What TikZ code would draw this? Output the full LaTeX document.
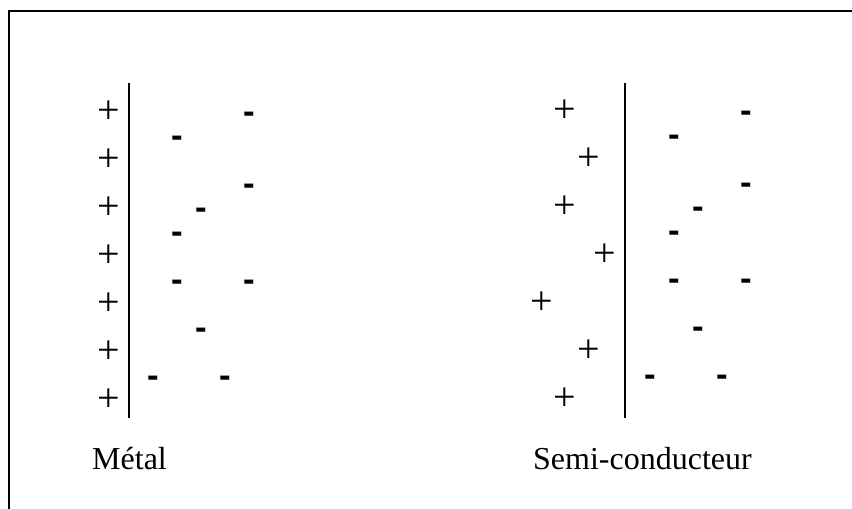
\documentclass[tikz,border=0pt]{standalone}
\usepackage{fontspec}
\setmainfont{Liberation Serif}
\newfontfamily\dashfont{DejaVu Sans}
\usetikzlibrary{positioning}

\begin{document}
\begin{tikzpicture}[
  x=1pt,y=-1pt,
  charge/.style={inner sep=0pt,anchor=base},
  plus/.style={charge,font=\fontsize{40}{46}\selectfont,yshift=-11pt},
  minus/.style={charge,font=\dashfont\bfseries\fontsize{29}{34}\selectfont,yshift=-7.8pt},
  caption/.style={inner sep=0pt,anchor=base west,font=\fontsize{32}{38}\selectfont},
  plate/.style={line width=2pt},
  frame/.style={line width=2pt}
]
\useasboundingbox (0,0) rectangle (852,509);
\draw[frame] (9,510) -- (9,11) -- (853,11);

% metal side
\coordinate (mtop) at (129,83);
\coordinate (mbot) at (129,418);
\draw[plate] (mtop) -- (mbot);
\node[plus] (mp1) at (109,112) {+};
\node[plus] (mp2) at (109,160) {+};
\node[plus] (mp3) at (109,208) {+};
\node[plus] (mp4) at (109,256) {+};
\node[plus] (mp5) at (109,304) {+};
\node[plus] (mp6) at (109,352) {+};
\node[plus] (mp7) at (109,400) {+};
\node[minus] (mm1) at (249,115) {-};
\node[minus] (mm2) at (177,139) {-};
\node[minus] (mm3) at (249,187) {-};
\node[minus] (mm4) at (201,211) {-};
\node[minus] (mm5) at (177,235) {-};
\node[minus] (mm6) at (177,283) {-};
\node[minus] (mm7) at (249,283) {-};
\node[minus] (mm8) at (201,331) {-};
\node[minus] (mm9) at (153,379) {-};
\node[minus] (mm10) at (225,379) {-};
\node[caption] (metal) at (92,469) {Métal};

% semiconductor side
\coordinate (stop) at (625,83);
\coordinate (sbot) at (625,418);
\draw[plate] (stop) -- (sbot);
\node[plus] (sp1) at (565,111) {+};
\node[plus] (sp2) at (589,159) {+};
\node[plus] (sp3) at (565,207) {+};
\node[plus] (sp4) at (605,255) {+};
\node[plus] (sp5) at (542,303) {+};
\node[plus] (sp6) at (589,351) {+};
\node[plus] (sp7) at (565,399) {+};
\node[minus] (sm1) at (746,114) {-};
\node[minus] (sm2) at (674,138) {-};
\node[minus] (sm3) at (746,186) {-};
\node[minus] (sm4) at (698,210) {-};
\node[minus] (sm5) at (674,234) {-};
\node[minus] (sm6) at (674,282) {-};
\node[minus] (sm7) at (746,282) {-};
\node[minus] (sm8) at (698,330) {-};
\node[minus] (sm9) at (650,378) {-};
\node[minus] (sm10) at (722,378) {-};
\node[caption] (semi) at (533,469) {Semi-conducteur};
\end{tikzpicture}
\end{document}
